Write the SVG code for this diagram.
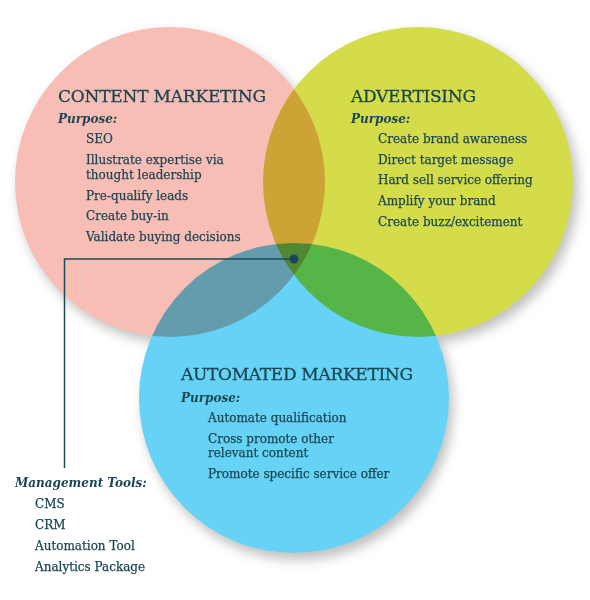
<svg xmlns="http://www.w3.org/2000/svg" width="590" height="600" viewBox="0 0 590 600">
<defs>
<filter id="shadow" x="-20%" y="-20%" width="140%" height="140%">
<feGaussianBlur stdDeviation="6"/>
</filter>
</defs>
<style>
.circ{mix-blend-mode:multiply}
.h{font-family:"DejaVu Serif","Liberation Serif",serif;font-size:17px;fill:#1b4754;stroke:#1b4754;stroke-width:0.3}
.p{font-family:"DejaVu Serif","Liberation Serif",serif;font-size:12px;font-weight:bold;font-style:italic;fill:#1b4754}
.t{font-family:"DejaVu Serif","Liberation Serif",serif;font-size:12px;fill:#1b4754;stroke:#1b4754;stroke-width:0.25}
.lead{stroke:#1b4a5a;stroke-width:1.5;fill:none}
</style>
<rect width="590" height="600" fill="#ffffff"/>
<g id="background">
<g filter="url(#shadow)" fill="#aaaaaa" opacity="0.75">
<circle cx="174" cy="188" r="155"/>
<circle cx="423" cy="188" r="155"/>
<circle cx="298" cy="405" r="155"/>
</g>
<g fill="#ffffff">
<circle cx="170" cy="182" r="155"/>
<circle cx="418" cy="182" r="155"/>
<circle cx="294" cy="398" r="155"/>
</g>
</g>
<g id="content-marketing">
<circle class="circ" cx="170" cy="182" r="155" fill="#f8bdb4"/>
<text class="h" x="58" y="102" textLength="208">CONTENT MARKETING</text>
<text class="p" x="58" y="123">Purpose:</text>
<text class="t" x="86" y="143">SEO</text>
<text class="t" x="86" y="164">Illustrate expertise via</text>
<text class="t" x="86" y="179">thought leadership</text>
<text class="t" x="86" y="200">Pre-qualify leads</text>
<text class="t" x="86" y="220">Create buy-in</text>
<text class="t" x="86" y="241">Validate buying decisions</text>
</g>
<g id="advertising">
<circle class="circ" cx="418" cy="182" r="155" fill="#d4dc4a"/>
<text class="h" x="351" y="102" textLength="125">ADVERTISING</text>
<text class="p" x="351" y="123">Purpose:</text>
<text class="t" x="378" y="143">Create brand awareness</text>
<text class="t" x="378" y="164">Direct target message</text>
<text class="t" x="378" y="184">Hard sell service offering</text>
<text class="t" x="378" y="205">Amplify your brand</text>
<text class="t" x="378" y="226">Create buzz/excitement</text>
</g>
<g id="automated-marketing">
<circle class="circ" cx="294" cy="398" r="155" fill="#66d2f5"/>
<text class="h" x="181" y="380" textLength="232">AUTOMATED MARKETING</text>
<text class="p" x="181" y="402">Purpose:</text>
<text class="t" x="208" y="422">Automate qualification</text>
<text class="t" x="208" y="443">Cross promote other</text>
<text class="t" x="208" y="457">relevant content</text>
<text class="t" x="208" y="478">Promote specific service offer</text>
</g>
<g id="connectors">
<polyline class="lead" points="294,259 64.5,259 64.5,468"/>
<circle cx="294" cy="259" r="4.5" fill="#16485a"/>
</g>
<g id="management-tools">
<text class="p" x="15" y="487">Management Tools:</text>
<text class="t" x="35" y="508">CMS</text>
<text class="t" x="35" y="529">CRM</text>
<text class="t" x="35" y="550">Automation Tool</text>
<text class="t" x="35" y="571">Analytics Package</text>
</g>
</svg>
